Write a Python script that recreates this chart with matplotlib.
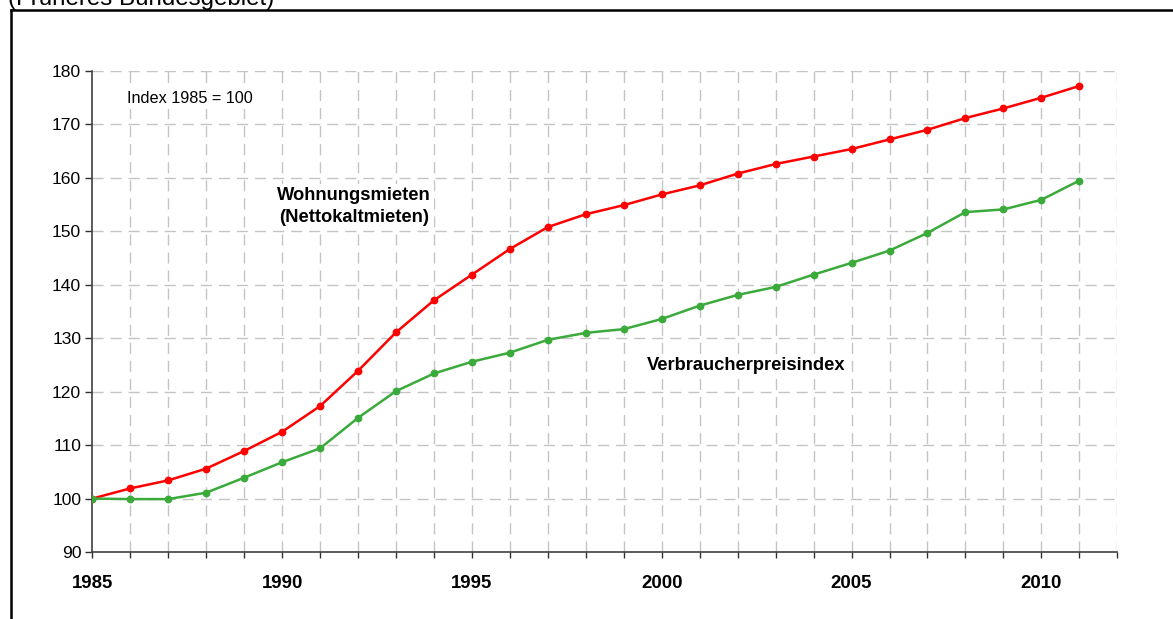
import matplotlib
matplotlib.use("Agg")
import matplotlib.pyplot as plt
from matplotlib.lines import Line2D
from matplotlib.ticker import MultipleLocator

plt.rcParams['font.family'] = ['Liberation Sans', 'DejaVu Sans']

years = list(range(1985, 2012))
mieten = [100.0, 101.9, 103.4, 105.6, 108.9, 112.5, 117.3, 123.9, 131.1, 137.1,
          141.9, 146.7, 150.8, 153.2, 154.9, 156.9, 158.6, 160.8, 162.6, 164.0,
          165.4, 167.2, 169.0, 171.2, 173.0, 175.0, 177.2]
vpi = [100.0, 99.9, 99.9, 101.1, 103.9, 106.8, 109.4, 115.1, 120.1, 123.4,
       125.6, 127.3, 129.7, 131.0, 131.7, 133.6, 136.1, 138.1, 139.6, 141.9,
       144.1, 146.4, 149.7, 153.6, 154.1, 155.9, 159.5]
major_years = [1985, 1990, 1995, 2000, 2005, 2010]
y_ticks = list(range(90, 181, 10))

W, H = 1173, 619
fig = plt.figure(figsize=(W / 100, H / 100), dpi=100)

# Outer frame (left and top edges visible)
fig.add_artist(Line2D([10.5 / W, 10.5 / W], [0, 1 - 9.5 / H], transform=fig.transFigure,
                      color='black', lw=1.8, solid_capstyle='projecting'))
fig.add_artist(Line2D([10.5 / W, 1.0], [1 - 9.5 / H, 1 - 9.5 / H], transform=fig.transFigure,
                      color='black', lw=1.8, solid_capstyle='projecting'))

fig.text(8 / W, 1 - 5 / H, '(Früheres Bundesgebiet)', fontsize=17.4,
         ha='left', va='baseline')

left, right = 92.3 / W, 1117.3 / W
bottom, top = (H - 552.0) / H, (H - 71.0) / H
ax = fig.add_axes([left, bottom, right - left, top - bottom])

ax.set_xlim(1985, 2012)
ax.set_ylim(90, 180)

grid_kw = dict(color='#c4c4c4', lw=1.0, dashes=(8, 5), zorder=0)
for yv in y_ticks[1:]:
    ax.axhline(yv, **grid_kw)
for xv in range(1986, 2013):
    ax.axvline(xv, **grid_kw)

ax.plot(years, mieten, color='#ff0000', lw=1.8, marker='o', ms=4.6, zorder=3)
ax.plot(years, vpi, color='#3aaa3a', lw=1.8, marker='o', ms=4.6, zorder=3)

ax.set_xticks(major_years)
ax.set_xticklabels([str(y) for y in major_years], fontsize=13.4, fontweight='bold')
ax.xaxis.set_minor_locator(MultipleLocator(1))
ax.set_yticks(y_ticks)
ax.set_yticklabels([str(y) for y in y_ticks], fontsize=12.6)

ax.tick_params(axis='x', which='both', direction='out', length=4.5, width=1.0,
               color='#303030', pad=12)
ax.tick_params(axis='y', which='major', direction='out', length=5, width=1.0,
               color='#303030', pad=3)

for s in ['top', 'right']:
    ax.spines[s].set_visible(False)
for s in ['left', 'bottom']:
    ax.spines[s].set_color('#404040')
    ax.spines[s].set_linewidth(1.2)

box = dict(facecolor='white', edgecolor='none', pad=2.5)
ax.text(1987.58, 174.9, 'Index 1985 = 100', fontsize=11.7, ha='center', va='center',
        bbox=box, zorder=2)
ax.text(1991.89, 154.6, 'Wohnungsmieten\n(Nettokaltmieten)', fontsize=13.2,
        fontweight='bold', ha='center', va='center', linespacing=1.4,
        bbox=box, zorder=2)
ax.text(2002.23, 124.85, 'Verbraucherpreisindex', fontsize=13.2, fontweight='bold',
        ha='center', va='center', bbox=box, zorder=2)

fig.savefig('out.png', dpi=100)
